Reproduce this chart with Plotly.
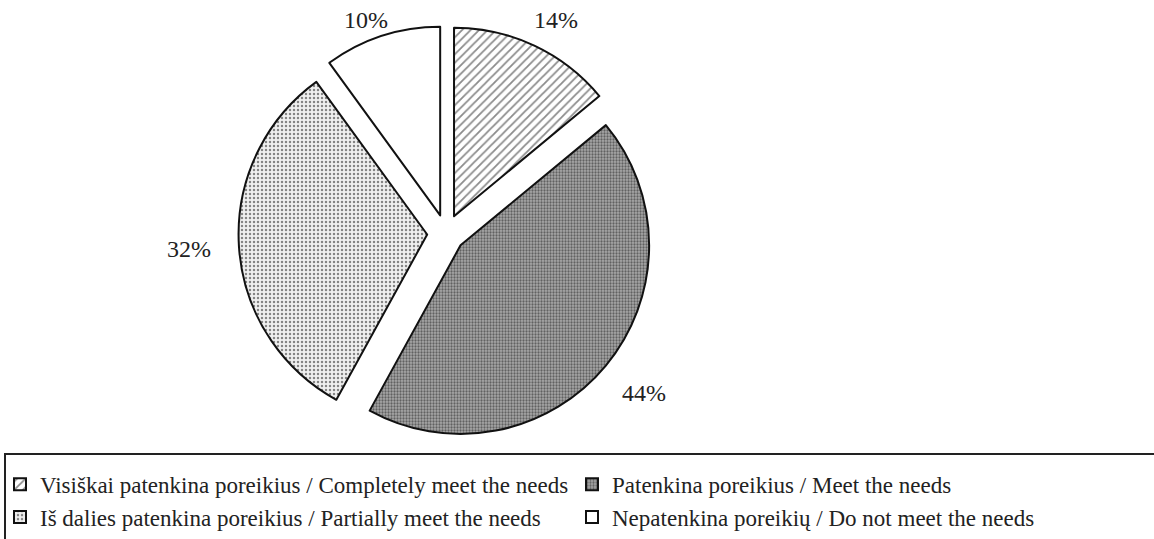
import math
import plotly.graph_objects as go

# Survey answers and their shares (%)
categories = [
    "Visiškai patenkina poreikius / Completely meet the needs",
    "Patenkina poreikius / Meet the needs",
    "Iš dalies patenkina poreikius / Partially meet the needs",
    "Nepatenkina poreikių / Do not meet the needs",
]
shares = [14, 44, 32, 10]

# Fill patterns per slice
pattern_shapes = ["/", ".", ".", ""]
pattern_sizes = [6, 3, 4, 8]
pattern_solidity = [0.3, 0.45, 0.3, 0.3]
pattern_bg = ["white", "#a8a8a8", "#f0f0f0", "white"]

W, H = 1154, 539
FONT = "Liberation Serif, Times New Roman, serif"

# Pie placement in pixels
cx, cy = 446, 240
pull = 0.1
radius = 194
box = radius * (2 + 2 * pull)

dom_x = [(cx - box / 2) / W, (cx + box / 2) / W]
dom_y = [1 - (cy + box / 2) / H, 1 - (cy - box / 2) / H]

fig = go.Figure(
    go.Pie(
        labels=categories,
        values=shares,
        sort=False,
        direction="clockwise",
        rotation=0,
        pull=[pull] * len(shares),
        textinfo="none",
        hoverinfo="label+percent",
        domain=dict(x=dom_x, y=dom_y),
        marker=dict(
            colors=["white"] * len(shares),
            line=dict(color="#111111", width=2),
            pattern=dict(
                shape=pattern_shapes,
                size=pattern_sizes,
                solidity=pattern_solidity,
                fgcolor="#1a1a1a",
                bgcolor=pattern_bg,
                fillmode="overlay",
            ),
        ),
    )
)

# Percentage labels outside each pulled slice, along its mid-angle,
# kept inside the top edge of the canvas
label_r = 238
top_limit = 21
total = sum(shares)
acc = 0
for v in shares:
    mid = (acc + v / 2) / total * 2 * math.pi
    acc += v
    ax = cx + radius * pull * math.sin(mid)
    ay = cy - radius * pull * math.cos(mid)
    px = ax + label_r * math.sin(mid)
    py = max(ay - label_r * math.cos(mid), top_limit)
    fig.add_annotation(
        x=px / W, y=1 - py / H, xref="paper", yref="paper",
        text=f"{round(v / total * 100)}%", showarrow=False,
        font=dict(family=FONT, size=24, color="#222222"),
        xanchor="center", yanchor="middle",
    )

# Frame around the legend area
fig.add_shape(
    type="rect", xref="paper", yref="paper",
    x0=5 / W, x1=1.02, y0=-0.1, y1=1 - 467 / H,
    line=dict(color="#222222", width=2), fillcolor="rgba(0,0,0,0)",
)

fig.update_layout(
    width=W, height=H,
    margin=dict(l=0, r=0, t=0, b=0),
    paper_bgcolor="white",
    plot_bgcolor="white",
    font=dict(family=FONT, size=23, color="#222222"),
    showlegend=True,
    legend=dict(
        orientation="h",
        x=0, y=1 - 476 / H,
        xanchor="left", yanchor="top",
        entrywidth=527, entrywidthmode="pixels",
        itemwidth=30,
        bgcolor="rgba(0,0,0,0)",
        borderwidth=0,
        font=dict(family=FONT, size=23, color="#222222"),
        traceorder="normal",
        tracegroupgap=0,
    ),
)

fig.write_html("out.html")
